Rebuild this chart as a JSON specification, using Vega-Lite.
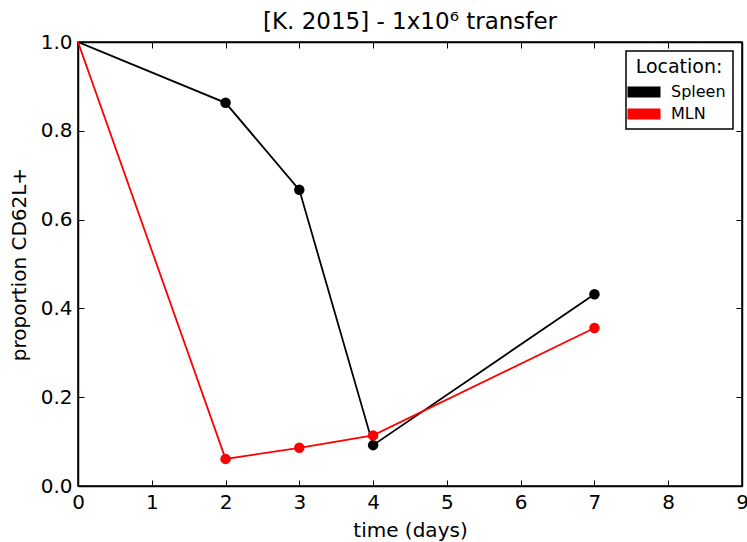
{
  "$schema": "https://vega.github.io/schema/vega-lite/v6.json",
  "autosize": "none",
  "width": 664,
  "height": 444,
  "padding": {"left": 78, "top": 42, "right": 5, "bottom": 56},
  "background": "white",
  "title": {
    "text": "[K. 2015] - 1x10\u2076 transfer",
    "font": "DejaVu Sans",
    "fontSize": 23,
    "fontWeight": "normal",
    "color": "black",
    "offset": -2,
    "anchor": "middle"
  },
  "config": {
    "view": {"stroke": "black", "strokeWidth": 1.5},
    "axis": {
      "labelFont": "DejaVu Sans",
      "titleFont": "DejaVu Sans",
      "labelFontSize": 20,
      "titleFontSize": 20,
      "titleFontWeight": "normal",
      "labelColor": "black",
      "titleColor": "black",
      "domainColor": "black",
      "domainWidth": 1.5,
      "tickColor": "black",
      "tickWidth": 1,
      "tickSize": -6,
      "labelFlush": false,
      "grid": false
    }
  },
  "data": {
    "values": [
      {"day": 0, "proportion": 1.0, "location": "Spleen"},
      {"day": 2, "proportion": 0.863, "location": "Spleen"},
      {"day": 3, "proportion": 0.667, "location": "Spleen"},
      {"day": 4, "proportion": 0.092, "location": "Spleen"},
      {"day": 7, "proportion": 0.432, "location": "Spleen"},
      {"day": 0, "proportion": 1.0, "location": "MLN"},
      {"day": 2, "proportion": 0.061, "location": "MLN"},
      {"day": 3, "proportion": 0.086, "location": "MLN"},
      {"day": 4, "proportion": 0.114, "location": "MLN"},
      {"day": 7, "proportion": 0.356, "location": "MLN"}
    ]
  },
  "resolve": {"axis": {"x": "independent", "y": "independent"}},
  "layer": [
    {
      "mark": {"type": "line", "strokeWidth": 1.8, "clip": true},
      "encoding": {
        "x": {
          "field": "day", "type": "quantitative",
          "scale": {"domain": [0, 9], "nice": false},
          "axis": {"title": "time (days)", "values": [0,1,2,3,4,5,6,7,8,9], "format": "d", "labelPadding": 12, "titlePadding": 8}
        },
        "y": {
          "field": "proportion", "type": "quantitative",
          "scale": {"domain": [0, 1], "nice": false},
          "axis": {"title": "proportion CD62L+", "values": [0,0.2,0.4,0.6,0.8,1.0], "format": ".1f", "labelPadding": 12, "titlePadding": 11}
        },
        "color": {
          "field": "location", "type": "nominal",
          "scale": {"domain": ["Spleen", "MLN"], "range": ["black", "#ff0000"]}
        },
        "order": {"field": "day"}
      }
    },
    {
      "transform": [{"filter": "datum.day > 0"}],
      "mark": {"type": "point", "filled": true, "opacity": 1, "size": 110, "shape": "circle"},
      "encoding": {
        "x": {
          "field": "day", "type": "quantitative",
          "axis": {"orient": "top", "title": null, "labels": false, "values": [0,1,2,3,4,5,6,7,8,9]}
        },
        "y": {
          "field": "proportion", "type": "quantitative",
          "axis": {"orient": "right", "title": null, "labels": false, "values": [0,0.2,0.4,0.6,0.8,1.0]}
        },
        "color": {
          "field": "location", "type": "nominal",
          "scale": {"domain": ["Spleen", "MLN"], "range": ["black", "#ff0000"]},
          "legend": {
            "title": "Location:",
            "orient": "none",
            "legendX": 548,
            "legendY": 9,
            "titleFont": "DejaVu Sans",
            "titleFontSize": 19,
            "titleFontWeight": "normal",
            "titleColor": "black",
            "titleAnchor": "middle",
            "titlePadding": 4,
            "labelFont": "DejaVu Sans",
            "labelFontSize": 16,
            "labelColor": "black",
            "labelOffset": 16,
            "symbolType": "M-1.5,-0.5H1.5V0.5H-1.5Z",
            "symbolSize": 484,
            "symbolStrokeWidth": 0,
            "symbolOpacity": 1,
            "rowPadding": 3,
            "padding": 7,
            "strokeColor": "black",
            "fillColor": "white",
            "encode": {
              "legend": {"update": {"strokeWidth": {"value": 1.5}}},
              "symbols": {"update": {"fill": {"scale": "color", "field": "value"}, "stroke": {"value": "transparent"}}}
            }
          }
        }
      }
    }
  ]
}
